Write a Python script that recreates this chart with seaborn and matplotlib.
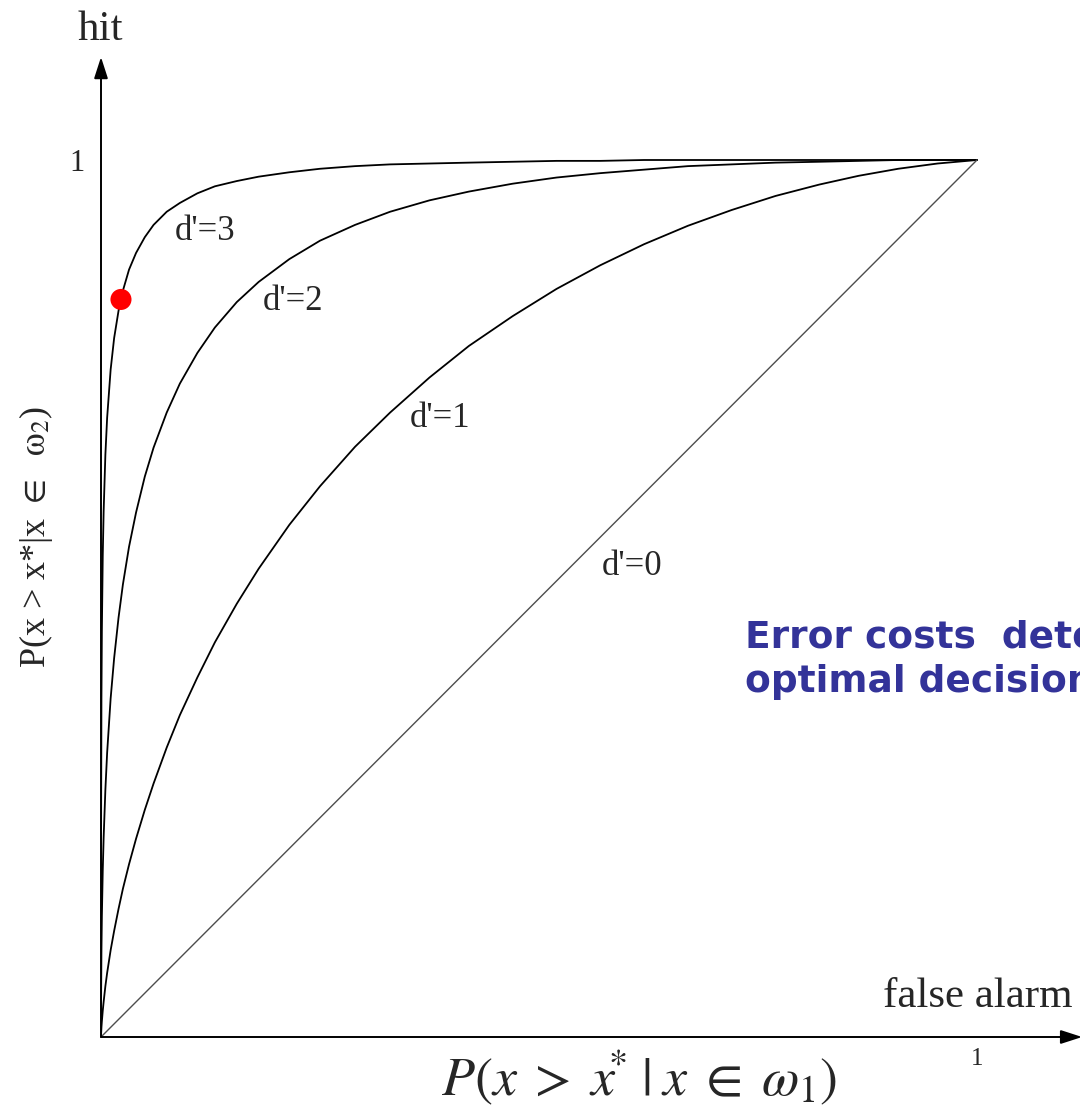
import numpy as np
import pandas as pd
import seaborn as sns
import matplotlib.pyplot as plt

sns.set_style('white')
plt.rcParams['font.family'] = ['Liberation Serif', 'DejaVu Serif']
plt.rcParams['mathtext.fontset'] = 'stix'

# false alarm rate (x) shared by the three curved ROCs, hit rates
false_alarm = [0, 0.0001, 0.0005, 0.001, 0.002, 0.003, 0.005, 0.007, 0.011, 0.015,
               0.02, 0.025, 0.032, 0.04, 0.05, 0.06, 0.075, 0.09, 0.11, 0.13,
               0.155, 0.18, 0.215, 0.25, 0.29, 0.33, 0.375, 0.42, 0.47, 0.52,
               0.57, 0.62, 0.67, 0.72, 0.77, 0.82, 0.865, 0.91, 0.955, 1.0]
hit_d3 = [0, 0.236, 0.386, 0.464, 0.549, 0.599, 0.664, 0.706, 0.761, 0.797,
          0.828, 0.851, 0.875, 0.894, 0.912, 0.926, 0.941, 0.951, 0.962, 0.970,
          0.976, 0.981, 0.986, 0.990, 0.993, 0.995, 0.996, 0.997, 0.998, 0.999,
          0.999, 1.0, 1.0, 1.0, 1.0, 1.0, 1.0, 1.0, 1.0, 1.0]
hit_d2 = [0, 0.043, 0.098, 0.138, 0.190, 0.227, 0.282, 0.324, 0.386, 0.432,
          0.478, 0.516, 0.559, 0.598, 0.639, 0.672, 0.712, 0.745, 0.780, 0.809,
          0.838, 0.861, 0.887, 0.908, 0.926, 0.941, 0.954, 0.964, 0.973, 0.980,
          0.985, 0.989, 0.993, 0.995, 0.997, 0.998, 0.999, 1.0, 1.0, 1.0]
hit_d1 = [0, 0.003, 0.011, 0.018, 0.030, 0.040, 0.058, 0.073, 0.099, 0.121,
          0.146, 0.169, 0.197, 0.226, 0.259, 0.289, 0.330, 0.367, 0.410, 0.450,
          0.494, 0.534, 0.584, 0.628, 0.673, 0.712, 0.752, 0.788, 0.822, 0.853,
          0.880, 0.904, 0.925, 0.943, 0.959, 0.972, 0.982, 0.990, 0.996, 1.0]
chance = [0.0, 1.0]
op_fa = [0.0228]
op_hit = [0.841]
curve_labels = ["d'=3", "d'=2", "d'=1", "d'=0"]

n = len(false_alarm)
roc = pd.DataFrame({
    'fa': false_alarm * 3,
    'hit': hit_d3 + hit_d2 + hit_d1,
    'dprime': ['3'] * n + ['2'] * n + ['1'] * n,
})

fig = plt.figure(figsize=(10.8, 11.1), dpi=100)
ax = fig.add_axes([101 / 1080, 73 / 1110, 979 / 1080, 997 / 1110])

sns.lineplot(data=roc, x='fa', y='hit', units='dprime', estimator=None, sort=False,
             color='black', lw=1.3, legend=False, ax=ax)
sns.lineplot(x=chance, y=chance, color='0.3', lw=1.0, ax=ax)
sns.scatterplot(x=op_fa, y=op_hit, color='red', s=230, edgecolor='none',
                zorder=5, ax=ax)

ax.set_xlim(0, 979 / 876)
ax.set_ylim(0, 997 / 877)
for s in ax.spines.values():
    s.set_visible(False)

# axes with arrow heads
arrow = dict(arrowstyle='-|>,head_length=13,head_width=4.2', lw=1.4,
             color='black', shrinkA=0, shrinkB=0, mutation_scale=1)
ax.annotate('', xy=(1.12, 0), xytext=(0, 0), arrowprops=arrow, annotation_clip=False)
ax.annotate('', xy=(0, 1.1174), xytext=(0, 0), arrowprops=arrow, annotation_clip=False)

ax.set_xticks([1])
ax.set_yticks([1])
ax.set_xticklabels(['1'], fontsize=18)
ax.set_yticklabels(['1'], fontsize=22)
ax.tick_params(axis='x', direction='in', length=8, width=1, pad=8)
ax.tick_params(axis='y', direction='in', length=7, width=1, pad=12)
ax.set_xlabel('')
ax.set_ylabel('')

label_xy = [(0.0845, 0.909), (0.185, 0.829), (0.353, 0.696), (0.572, 0.527)]
for lab, (lx, ly) in zip(curve_labels, label_xy):
    ax.text(lx, ly, lab, fontsize=25, ha='left', va='baseline')

fig.text(100 / 1080, 1 - 40 / 1110, 'hit', fontsize=31, ha='center', va='baseline')
fig.text(883 / 1080, 1 - 1007 / 1110, 'false alarm', fontsize=31, ha='left', va='baseline')
fig.text(639 / 1080, 1 - 1078 / 1110,
         r'$P(x\;>\;x\!^{*}\;|\;x\;\in\;\omega_1)$',
         fontsize=39, ha='center', va='center')
fig.text(36 / 1080, 1 - 537 / 1110, r'P(x > x*|x $\in$  $\mathrm{\omega}_2$)',
         fontsize=26, rotation=90, ha='center', va='center')

blue = '#333399'
fig.text(745 / 1080, 1 - 647 / 1110, 'Error costs  determine the', fontsize=27,
         fontweight='bold', family='DejaVu Sans', color=blue, ha='left', va='baseline')
fig.text(745 / 1080, 1 - 692 / 1110, 'optimal decision point', fontsize=27,
         fontweight='bold', family='DejaVu Sans', color=blue, ha='left', va='baseline')

fig.savefig('out.png', dpi=100)
